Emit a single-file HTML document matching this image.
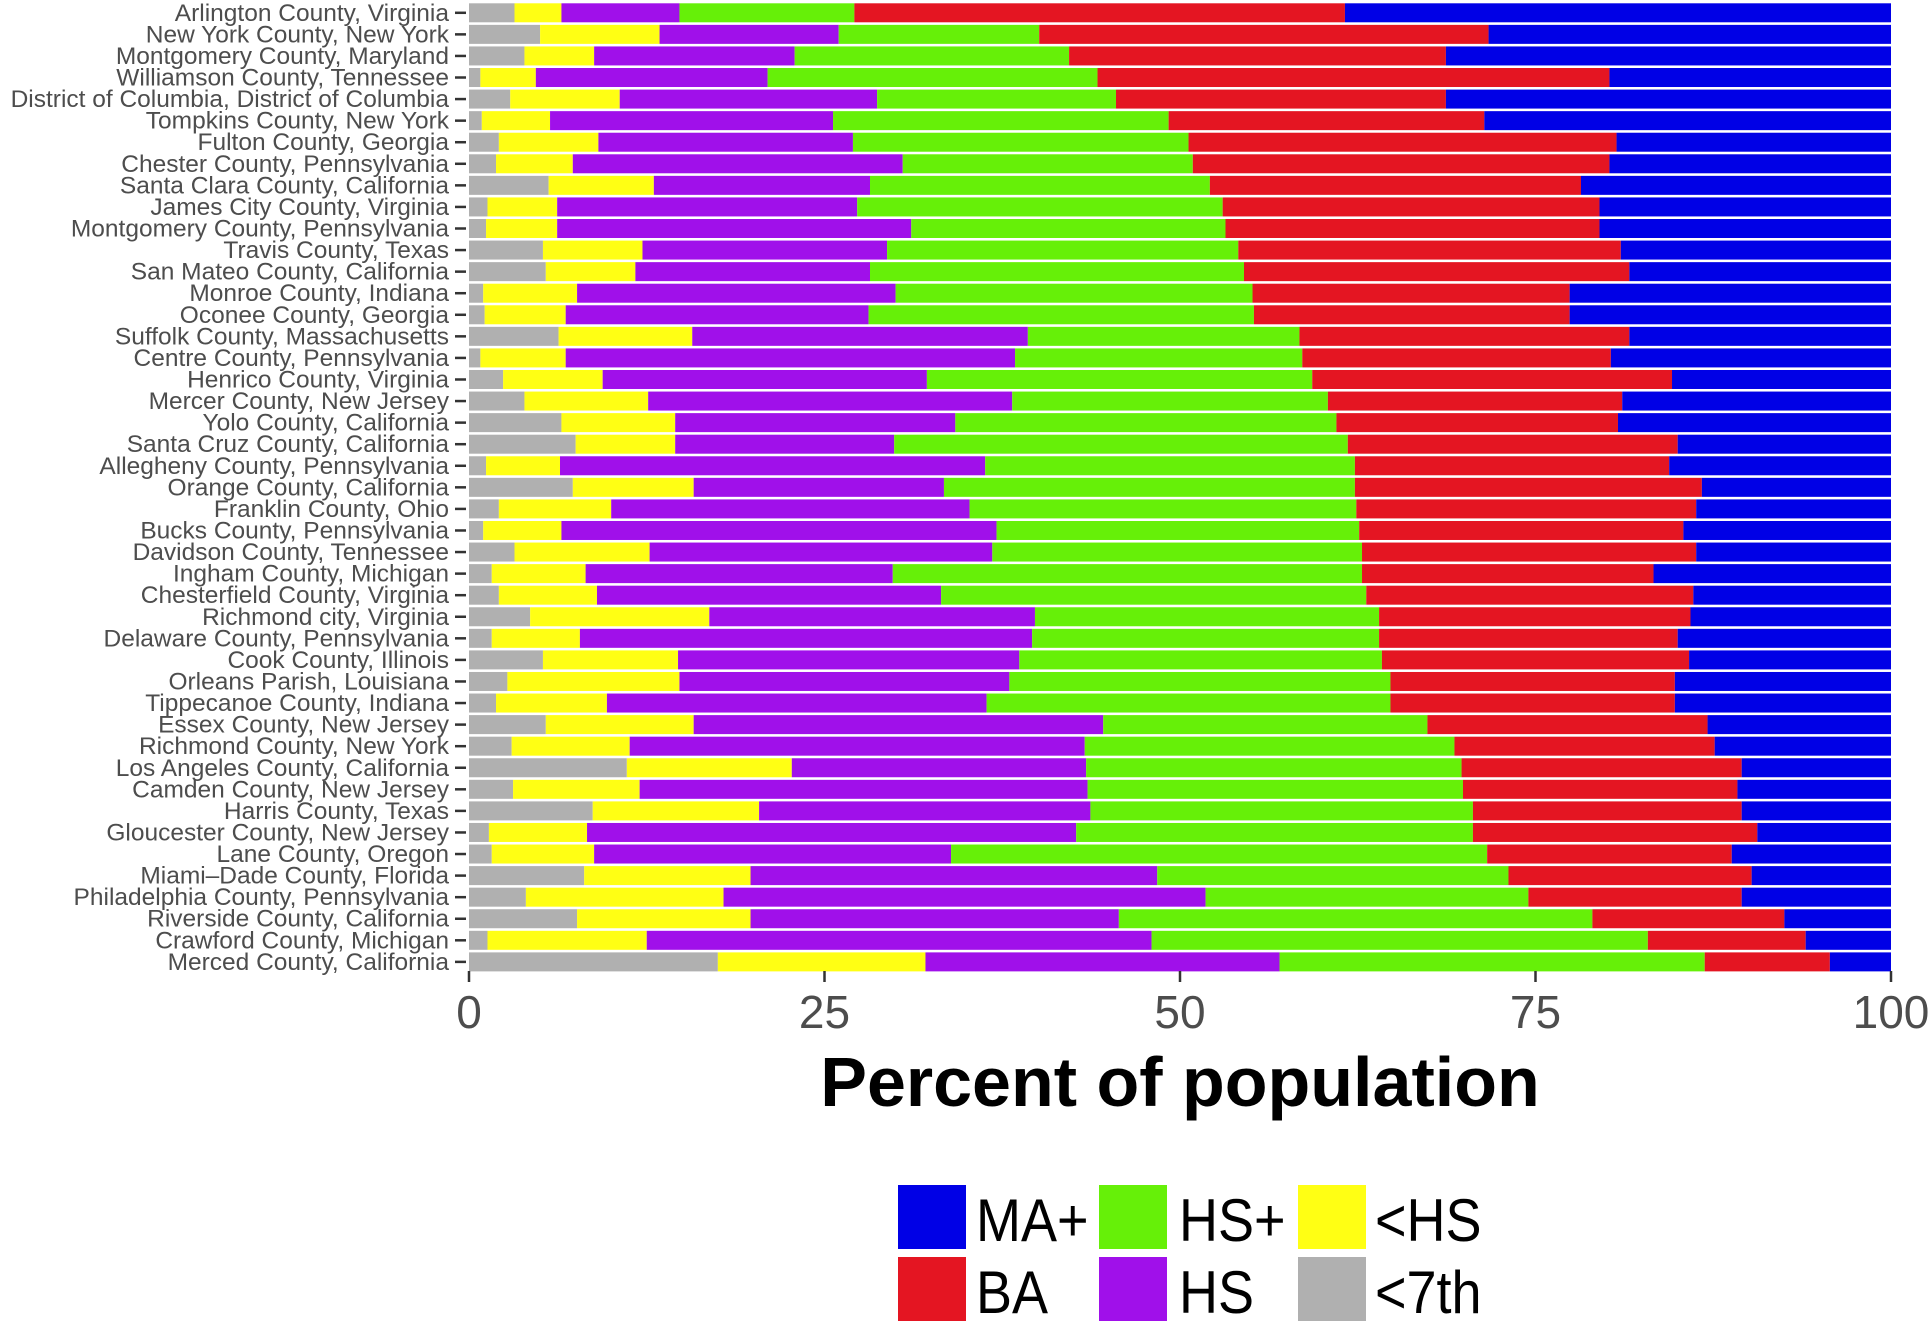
<!DOCTYPE html>
<html><head><meta charset="utf-8"><style>
html,body{margin:0;padding:0;background:#fff;}
svg{display:block;font-family:"Liberation Sans",sans-serif;}
</style></head><body>
<svg id="chart" width="1929" height="1325" viewBox="0 0 1929 1325" xmlns="http://www.w3.org/2000/svg">
<g id="bars"></g>
<g id="ylabels"></g>
<g id="xaxis"></g>
<text x="1180" y="1106" text-anchor="middle" font-size="70" font-weight="bold" fill="#000">Percent of population</text>
<g id="legend"></g>
</svg>
<script>
const categories = ["Arlington County, Virginia","New York County, New York","Montgomery County, Maryland","Williamson County, Tennessee","District of Columbia, District of Columbia","Tompkins County, New York","Fulton County, Georgia","Chester County, Pennsylvania","Santa Clara County, California","James City County, Virginia","Montgomery County, Pennsylvania","Travis County, Texas","San Mateo County, California","Monroe County, Indiana","Oconee County, Georgia","Suffolk County, Massachusetts","Centre County, Pennsylvania","Henrico County, Virginia","Mercer County, New Jersey","Yolo County, California","Santa Cruz County, California","Allegheny County, Pennsylvania","Orange County, California","Franklin County, Ohio","Bucks County, Pennsylvania","Davidson County, Tennessee","Ingham County, Michigan","Chesterfield County, Virginia","Richmond city, Virginia","Delaware County, Pennsylvania","Cook County, Illinois","Orleans Parish, Louisiana","Tippecanoe County, Indiana","Essex County, New Jersey","Richmond County, New York","Los Angeles County, California","Camden County, New Jersey","Harris County, Texas","Gloucester County, New Jersey","Lane County, Oregon","Miami\u2013Dade County, Florida","Philadelphia County, Pennsylvania","Riverside County, California","Crawford County, Michigan","Merced County, California"];
const lt7  = [3.2,5.0,3.9,0.8,2.9,0.9,2.1,1.9,5.6,1.3,1.2,5.2,5.4,1.0,1.1,6.3,0.8,2.4,3.9,6.5,7.5,1.2,7.3,2.1,1.0,3.2,1.6,2.1,4.3,1.6,5.2,2.7,1.9,5.4,3.0,11.1,3.1,8.7,1.4,1.6,8.1,4.0,7.6,1.3,17.5];
const ltHS = [3.3,8.4,4.9,3.9,7.7,4.8,7.0,5.4,7.4,4.9,5.0,7.0,6.3,6.6,5.7,9.4,6.0,7.0,8.7,8.0,7.0,5.2,8.5,7.9,5.5,9.5,6.6,6.9,12.6,6.2,9.5,12.1,7.8,10.4,8.3,11.6,8.9,11.7,6.9,7.2,11.7,13.9,12.2,11.2,14.6];
const hs   = [8.3,12.6,14.1,16.3,18.1,19.9,17.9,23.2,15.2,21.1,24.9,17.2,16.5,22.4,21.3,23.6,31.6,22.8,25.6,19.7,15.4,29.9,17.6,25.2,30.6,24.1,21.6,24.2,22.9,31.8,24.0,23.2,26.7,28.8,32.0,20.7,31.5,23.3,34.4,25.1,28.6,33.9,25.9,35.5,24.9];
const hsPlus=[12.3,14.1,19.3,23.2,16.8,23.6,23.6,20.4,23.9,25.7,22.1,24.7,26.3,25.1,27.1,19.1,20.2,27.1,22.2,26.8,31.9,26.0,28.9,27.2,25.5,26.0,33.0,29.9,24.2,24.4,25.5,26.8,28.4,22.8,26.0,26.4,26.4,26.9,27.9,37.7,24.7,22.7,33.3,34.9,29.9];
const ba   = [34.5,31.6,26.5,36.0,23.2,22.2,30.1,29.3,26.1,26.5,26.3,26.9,27.1,22.3,22.2,23.2,21.7,25.3,20.7,19.8,23.2,22.1,24.4,23.9,22.8,23.5,20.5,23.0,21.9,21.0,21.6,20.0,20.0,19.7,18.3,19.7,19.3,18.9,20.0,17.2,17.1,15.0,13.5,11.1,8.8];
const maPlus=[38.4,28.3,31.3,19.8,31.3,28.6,19.3,19.8,21.8,20.5,20.5,19.0,18.4,22.6,22.6,18.4,19.7,15.4,18.9,19.2,15.0,15.6,13.3,13.7,14.6,13.7,16.7,13.9,14.1,15.0,14.2,15.2,15.2,12.9,12.4,10.5,10.8,10.5,9.4,11.2,9.8,10.5,7.5,6.0,4.3];
const tickValues = [0,25,50,75,100];
const seriesNames = ["<7th","<HS","HS","HS+","BA","MA+"];

const NS="http://www.w3.org/2000/svg";
const X0=469, X1=1891, Y0=12.8, PITCH=21.57, BH=19;
const xs = v => X0 + (X1-X0)*v/100;
const yc = i => Y0 + i*PITCH;
const colors = {"<7th":"#b0b0b0","<HS":"#ffff14","HS":"#a010ea","HS+":"#66f008","BA":"#e41522","MA+":"#0000e6"};
const seriesData = [lt7, ltHS, hs, hsPlus, ba, maPlus];
function mk(tag, attrs, parent){const e=document.createElementNS(NS,tag);for(const k in attrs)e.setAttribute(k,attrs[k]);parent.appendChild(e);return e;}
const gB=document.getElementById('bars'), gY=document.getElementById('ylabels'), gX=document.getElementById('xaxis'), gL=document.getElementById('legend');
categories.forEach((c,i)=>{
  let cum=0;
  seriesData.forEach((arr,s)=>{
    const v=arr[i];
    const r=mk('rect',{x:xs(cum),y:yc(i)-BH/2,width:Math.max(0,xs(cum+v)-xs(cum)),height:BH,fill:colors[seriesNames[s]]},gB);
    
    
    cum+=v;
  });
  const t=mk('text',{x:449,y:yc(i)+8,'text-anchor':'end','font-size':24.5,fill:'#4d4d4d'},gY);
  t.textContent=c;
  
  
  const tk=mk('line',{x1:455,x2:466,y1:yc(i),y2:yc(i),stroke:'#333','stroke-width':2.5},gY);
  
  
});
tickValues.forEach(v=>{
  const l=mk('line',{x1:xs(v),x2:xs(v),y1:971,y2:982,stroke:'#333','stroke-width':2.5},gX);
  
  
  const t=mk('text',{x:xs(v),y:1028,'text-anchor':'middle','font-size':46,fill:'#4d4d4d'},gX);
  t.textContent=String(v);
  
  
});
const legendItems=[["MA+",898,1185,976],["BA",898,1257,976],["HS+",1099,1185,1179],["HS",1099,1257,1179],["<HS",1298,1185,1375],["<7th",1298,1257,1375]];
legendItems.forEach(([n,x,y,tx])=>{
  const r=mk('rect',{x:x,y:y,width:68,height:64,fill:colors[n]},gL);
  
  
  const t=mk('text',{x:0,y:0,'font-size':60,fill:'#000',transform:`translate(${tx},${y+56}) scale(0.9,1)`},gL);
  t.textContent=n;
  
  
});
</script>
</body></html>
